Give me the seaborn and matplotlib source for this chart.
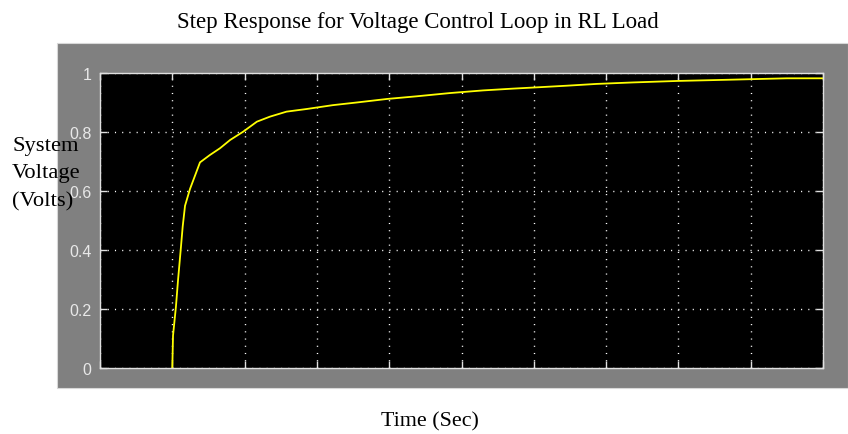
import numpy as np
import pandas as pd
import matplotlib
matplotlib.use("Agg")
import matplotlib.pyplot as plt
from matplotlib.patches import Rectangle
import seaborn as sns

# ---- data ----
time_s = [1.0, 1.01, 1.05, 1.08, 1.116, 1.144, 1.176, 1.245, 1.314, 1.383,
          1.52, 1.66, 1.80, 1.98, 2.17, 2.35, 2.58, 2.86, 3.22, 3.55, 3.97,
          4.38, 4.84, 5.30, 5.71, 6.09, 6.46, 6.87, 7.37, 7.98, 8.67, 9.50, 10.0]
voltage = [0.0, 0.11, 0.207, 0.30, 0.40, 0.48, 0.55, 0.607, 0.652, 0.697,
           0.722, 0.745, 0.773, 0.801, 0.835, 0.852, 0.869, 0.878, 0.891, 0.90, 0.912,
           0.921, 0.932, 0.941, 0.947, 0.952, 0.957, 0.963, 0.968, 0.973, 0.977, 0.982, 0.982]
y_ticks = [0, 0.2, 0.4, 0.6, 0.8, 1]
y_tick_labels = ["0", "0.2", "0.4", "0.6", "0.8", "1"]
x_ticks = list(range(0, 11))

title_text = "Step Response for Voltage Control Loop in RL Load"
ylabel_text = "System\nVoltage\n(Volts)"
xlabel_text = "Time (Sec)"

df = pd.DataFrame({"t": time_s, "v": voltage})

sns.set_style("dark", {"axes.facecolor": "black"})
plt.rcParams["font.family"] = ["Liberation Serif", "DejaVu Serif"]

W, H = 848, 435
fig = plt.figure(figsize=(W / 100, H / 100), dpi=100, facecolor="white")

# gray scope frame
fig.add_artist(Rectangle((57 / W, 1 - 389 / H), (848 - 57) / W, (389 - 44) / H,
                         transform=fig.transFigure, facecolor="#808080",
                         edgecolor="#d8d8d8", linewidth=0.8, zorder=-1))

ax = fig.add_axes([100 / W, 1 - 369 / H, (823 - 100) / W, (369 - 74) / H])
ax.set_facecolor("black")

sns.lineplot(data=df, x="t", y="v", ax=ax, color="#ffff00", linewidth=1.3,
             estimator=None, sort=False)

ax.set_xlim(0, 10)
ax.set_ylim(0, 1)
ax.set_xticks(x_ticks)
ax.set_xticklabels([])
ax.set_yticks(y_ticks)
ax.set_yticklabels(y_tick_labels, family=["Liberation Sans", "DejaVu Sans"],
                   fontsize=11.5, color="#e8e8e8")

ax.tick_params(axis="both", which="both", direction="in", length=5, width=1,
               color="#e0e0e0", top=True, right=True, bottom=True, left=True)
ax.tick_params(axis="y", pad=6)
for s in ax.spines.values():
    s.set_visible(True)
    s.set_color("#e0e0e0")
    s.set_linewidth(1.0)

ax.grid(True, color="white", linestyle=(0, (0.8, 4.4)), linewidth=1.0)
ax.set_axisbelow(True)

ax.set_title(title_text, fontsize=16.5, color="black", x=(418 - 100) / 723,
             y=1 + (74 - 28) / 295, va="baseline", pad=0)
ax.set_xlabel(xlabel_text, fontsize=15.8, color="black", va="center")
ax.xaxis.set_label_coords((430 - 100) / 723, -(422 - 369) / 295)
ax.set_ylabel(ylabel_text, fontsize=16.2, color="black", rotation=0,
              ha="left", va="center", multialignment="left", linespacing=1.6)
ax.yaxis.set_label_coords((12 - 100) / 723, (369 - 174) / 295)

fig.savefig("out.png", dpi=100, facecolor="white")
